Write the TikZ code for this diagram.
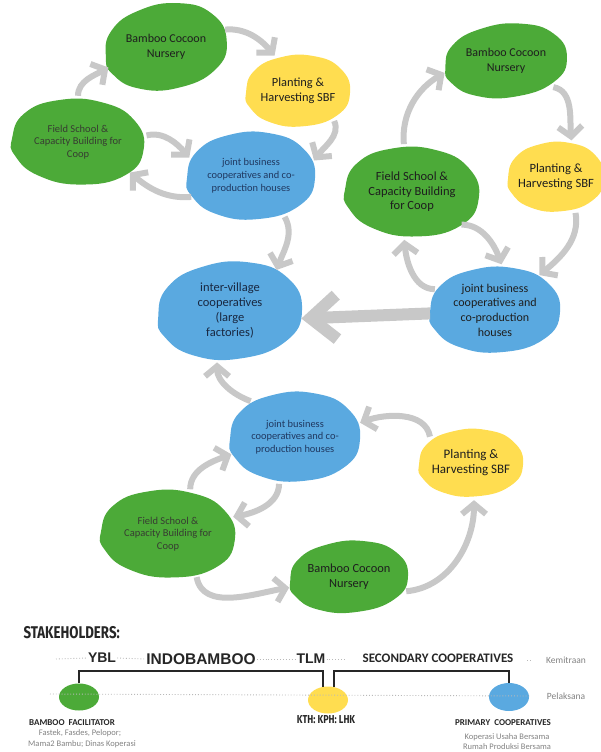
\documentclass[tikz,border=0pt]{standalone}
\usepackage{fontspec}
\setmainfont{Carlito}
\newfontfamily\headfont[FakeStretch=0.78]{Fira Sans}
\newfontfamily\arialfont{Liberation Sans}
\usetikzlibrary{arrows.meta,shapes.geometric,backgrounds,calc}

\definecolor{leaf}{RGB}{76,170,56}
\definecolor{sun}{RGB}{255,221,80}
\definecolor{sky}{RGB}{90,169,224}
\definecolor{flow}{RGB}{200,200,200}
\definecolor{ink}{RGB}{30,30,30}
\definecolor{navy}{RGB}{32,56,96}
\definecolor{deepnavy}{RGB}{25,40,65}
\definecolor{dimink}{RGB}{55,60,50}
\definecolor{note}{RGB}{130,130,130}
\definecolor{dotgray}{RGB}{185,185,185}

% irregular pebble outline behind a node: centre, x radius, y radius, colour, rotation
\newcommand\pebble[5]{%
  \begin{scope}[shift={(#1)}, rotate=#5, xscale=#2, yscale=#3]
    \fill[#4] plot[smooth cycle, tension=0.8] coordinates
      {(-1,0.05) (-0.85,-0.55) (-0.35,-0.93) (0.3,-0.97) (0.82,-0.62)
       (1,0.05) (0.75,0.68) (0.1,0.98) (-0.55,0.86) (-0.93,0.45)};
  \end{scope}}

\tikzset{
  blob/.style={ellipse, inner sep=0pt, align=center, text=ink},
  flowarrow/.style={draw=flow, line width=6pt,
    -{Straight Barb[length=10pt,width=24pt]}, shorten <=3pt, shorten >=3pt},
  bigarrow/.style={draw=flow, line width=12pt,
    -{Straight Barb[length=26pt,width=44pt]}},
  dots/.style={draw=dotgray, dotted, line width=0.9pt},
  bracket/.style={draw=black!85, line width=1.8pt},
  role/.style={font=\bfseries\fontsize{9}{10}\selectfont, text=black!85},
  member/.style={font=\fontsize{8.5}{10}\selectfont, text=note},
  partner/.style={font=\arialfont\bfseries\fontsize{14}{14}\selectfont, text=black!85, inner sep=1pt},
  level/.style={font=\fontsize{9.5}{10}\selectfont, text=note},
}

\begin{document}
\begin{tikzpicture}[x=1pt, y=-1pt]
\useasboundingbox (0,0) rectangle (600,752);

% ---- upper-left cycle
\node[blob, minimum width=122pt, minimum height=86pt, font=\fontsize{12}{14.5}\selectfont] (nurA) at (166,47) {Bamboo Cocoon\\Nursery};
\node[blob, minimum width=104pt, minimum height=72pt, font=\fontsize{12.4}{15}\selectfont] (plA) at (298,91) {Planting \&\\Harvesting SBF};
\node[blob, minimum width=132pt, minimum height=86pt, text=dimink, font=\fontsize{10.5}{12.5}\selectfont] (fsA) at (78,142) {Field School \&\\Capacity Building for\\Coop};
\node[blob, minimum width=128pt, minimum height=88pt, text=navy, font=\fontsize{10.4}{12.8}\selectfont] (jbA) at (251,176) {joint business\\cooperatives and co-\\production houses};

% ---- right cycle
\node[blob, minimum width=122pt, minimum height=74pt, font=\fontsize{12}{15}\selectfont] (nurB) at (506,61) {Bamboo Cocoon\\Nursery};
\node[blob, minimum width=96pt, minimum height=70pt, font=\fontsize{12.6}{15}\selectfont] (plB) at (556,177) {Planting \&\\Harvesting SBF};
\node[blob, minimum width=134pt, minimum height=90pt, font=\fontsize{12.5}{14.6}\selectfont] (fsB) at (412,192) {Field School \&\\Capacity Building\\for Coop};
\node[blob, minimum width=130pt, minimum height=86pt, font=\fontsize{12}{14.7}\selectfont] (jbB) at (495,310) {joint business\\cooperatives and\\co-production\\houses};

% ---- centre
\node[blob, minimum width=144pt, minimum height=98pt, text=deepnavy, font=\fontsize{12.5}{15}\selectfont] (iv) at (230,311) {inter-village\\cooperatives\\(large\\factories)};

% ---- lower cycle
\node[blob, minimum width=130pt, minimum height=90pt, text=navy, font=\fontsize{10.4}{12.7}\selectfont] (jbC) at (295,437) {joint business\\cooperatives and co-\\production houses};
\node[blob, minimum width=104pt, minimum height=68pt, font=\fontsize{13}{15}\selectfont] (plC) at (471,463) {Planting \&\\Harvesting SBF};
\node[blob, minimum width=134pt, minimum height=88pt, text=dimink, font=\fontsize{10.5}{12.5}\selectfont] (fsC) at (168,534) {Field School \&\\Capacity Building for\\Coop};
\node[blob, minimum width=118pt, minimum height=72pt, font=\fontsize{12.4}{15}\selectfont] (nurC) at (349,577) {Bamboo Cocoon\\Nursery};

\begin{pgfonlayer}{background}
  \pebble{nurA}{61}{43}{leaf}{8}
  \pebble{plA}{52}{36}{sun}{0}
  \pebble{fsA}{66}{43}{leaf}{-5}
  \pebble{jbA}{64}{44}{sky}{0}
  \pebble{nurB}{61}{37}{leaf}{5}
  \pebble{plB}{48}{35}{sun}{0}
  \pebble{fsB}{67}{45}{leaf}{-4}
  \pebble{jbB}{65}{43}{sky}{0}
  \pebble{iv}{72}{49}{sky}{3}
  \pebble{jbC}{65}{45}{sky}{0}
  \pebble{plC}{52}{34}{sun}{0}
  \pebble{fsC}{67}{44}{leaf}{-4}
  \pebble{nurC}{59}{36}{leaf}{3}
\end{pgfonlayer}

% ---- flows, upper-left cycle
\draw[flowarrow] (fsA.90) to[out=90, in=210] (nurA.199);
\draw[flowarrow] (nurA.17) to[out=5, in=130] (plA.123);
\draw[flowarrow] (plA.-38) to[out=-65, in=55] (jbA.12);
\draw[flowarrow] (fsA.5) to[out=15, in=130] (jbA.165);
\draw[flowarrow] (jbA.200) to[out=185, in=-40] (fsA.-30);
\draw[flowarrow] (jbA.-50) to[out=-60, in=70] (iv.40);

% ---- flows, right cycle
\draw[flowarrow] (fsB.100) to[out=95, in=210] (nurB.190);
\draw[flowarrow] (nurB.-30) to[out=-10, in=95] (plB.65);
\draw[flowarrow] (plB.-60) to[out=-80, in=40] (jbB.38);
\draw[flowarrow] (fsB.-35) to[out=0, in=110] (jbB.80);
\draw[flowarrow] (jbB.160) to[out=180, in=-85] (fsB.-100);
\draw[bigarrow] (jbB.183) -- (iv.-6);

% ---- flows, lower cycle
\draw[flowarrow] (jbC.140) to[out=160, in=-90] (iv.-105);
\draw[flowarrow] (plC.150) to[out=100, in=20] (jbC.12);
\draw[flowarrow] (fsC.62) to[out=90, in=200] (jbC.195);
\draw[flowarrow] (jbC.-110) to[out=-90, in=10] (fsC.15);
\draw[flowarrow] (fsC.-55) to[out=-80, in=190] (nurC.190);
\draw[flowarrow] (nurC.-15) to[out=5, in=-90] (plC.-85);

% ---- stakeholders
\node[anchor=west, text=black!85, font=\headfont\bfseries\fontsize{17}{17}\selectfont] (stk) at (20,633) {STAKEHOLDERS:};

\node[partner] (ybl) at (102,658) {YBL};
\node[partner, font=\arialfont\bfseries\fontsize{15.5}{15.5}\selectfont] (indo) at (201,659) {INDOBAMBOO};
\node[partner] (tlm) at (311,659) {TLM};
\node[font=\bfseries\fontsize{13}{13}\selectfont, text=black!85, inner sep=1pt] (sec) at (438,658) {SECONDARY COOPERATIVES};
\node[level] (kem) at (566,660) {Kemitraan};
\node[level] (pel) at (566,696) {Pelaksana};

\node[ellipse, fill=leaf, minimum width=40pt, minimum height=27pt, inner sep=0pt] (sg) at (79,697) {};
\node[ellipse, fill=sun, minimum width=40pt, minimum height=27pt, inner sep=0pt] (sy) at (328,700) {};
\node[ellipse, fill=sky, minimum width=40pt, minimum height=28pt, inner sep=0pt] (sb) at (509,697) {};

\coordinate (topstart) at (56,659);
\coordinate (topend) at (346,659);
\coordinate (lowstart) at (50,694);
\draw[dots] (topstart) -- (ybl.west);
\draw[dots] (ybl.east) -- (indo.west);
\draw[dots] (indo.east) -- (tlm.west);
\draw[dots] (tlm.east) -- (topend);
\draw[dots] (kem.west) ++(-12,0) -- ++(-4,0);
\draw[dots] (lowstart) -- ($(pel.west)+(-12,0)$);

\draw[bracket] (sg.north) -- ++(0,-12.5) -| (sy.110);
\draw[bracket] (sy.65) |- ($(sb.north)+(0,-12)$) -- (sb.north);

\node[role] (facil) at (72,723) {BAMBOO\ \ FACILITATOR};
\node[member] (facil1) at (80,733) {Fastek, Fasdes, Pelopor;};
\node[member] (facil2) at (82,744) {Mama2 Bambu; Dinas Koperasi};

\node[text=black!85, font=\headfont\bfseries\fontsize{11.5}{11.5}\selectfont] (kth) at (326,720) {KTH: KPH: LHK};

\node[role] (prim) at (503,723) {PRIMARY\ \ COOPERATIVES};
\node[member] (prim1) at (507,737) {Koperasi Usaha Bersama};
\node[member] (prim2) at (507,747) {Rumah Produksi Bersama};
\end{tikzpicture}
\end{document}
